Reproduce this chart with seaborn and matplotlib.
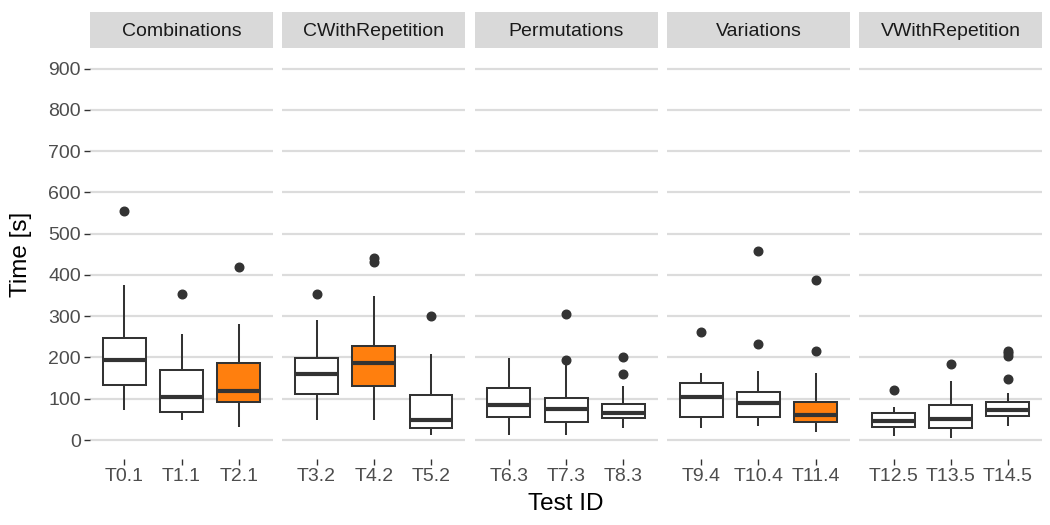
import matplotlib
matplotlib.use("Agg")
import matplotlib.pyplot as plt
import seaborn as sns
import pandas as pd

sns.set_theme(style="white")
plt.rcParams['font.family'] = ['Liberation Sans', 'DejaVu Sans']

# ---- data (box statistics per test) ----
categories = ["Combinations", "CWithRepetition", "Permutations", "Variations", "VWithRepetition"]
tests = [["T0.1", "T1.1", "T2.1"],
         ["T3.2", "T4.2", "T5.2"],
         ["T6.3", "T7.3", "T8.3"],
         ["T9.4", "T10.4", "T11.4"],
         ["T12.5", "T13.5", "T14.5"]]
highlight = ["T2.1", "T4.2", "T11.4"]

whislo = [72, 48, 31, 48, 48, 11, 13, 13, 29, 30, 35, 19, 10, 6, 35]
q1 = [134, 69, 91, 112, 130, 28, 56, 44, 53, 56, 56, 43, 31, 30, 58]
med = [194, 105, 118, 160, 186, 49, 85, 76, 65, 105, 89, 60, 47, 52, 73]
q3 = [248, 169, 187, 198, 227, 109, 127, 102, 87, 137, 117, 93, 65, 85, 93]
whishi = [376, 257, 281, 291, 348, 208, 198, 186, 131, 162, 167, 162, 81, 144, 115]
outliers = [[556], [355], [420], [355], [432, 440], [300], [], [195, 305], [160, 201],
            [262], [232, 458], [215, 388], [121], [185], [148, 204, 210, 215]]

# ---- expand statistics into samples whose quartiles match exactly ----
all_tests = [t for grp in tests for t in grp]
rows = []
for i, t in enumerate(all_tests):
    k = len(outliers[i])
    m = k + 1
    sample = [whislo[i]] + [q1[i]] * m + [med[i]] * m + [q3[i]] * m + [whishi[i]] + outliers[i]
    cat = categories[i // 3]
    for v in sample:
        rows.append({"category": cat, "test": t, "time": v})
df = pd.DataFrame(rows)

ORANGE = "#FF7F0E"
LINE = "#333333"
GRID = "#DCDCDC"
TICKC = "#4D4D4D"

W, H = 1050, 525
fig = plt.figure(figsize=(10.5, 5.25), dpi=100)

left0, pw, step = 90, 183, 192.3
ptop, pbot = 50, 458.6
strip_top, strip_bot = 12, 48

for j, cat in enumerate(categories):
    x0 = left0 + j * step
    ax = fig.add_axes([x0 / W, (H - pbot) / H, pw / W, (pbot - ptop) / H])
    sub = df[df["category"] == cat]
    pal = {t: (ORANGE if t in highlight else "white") for t in tests[j]}
    sns.boxplot(data=sub, x="test", y="time", hue="test", order=tests[j],
                hue_order=tests[j], palette=pal, legend=False, width=0.75,
                linewidth=1.45, linecolor=LINE, showcaps=False, whis=1.5,
                saturation=1, ax=ax,
                medianprops=dict(linewidth=3.0, color=LINE),
                flierprops=dict(marker="o", markersize=6.2, markerfacecolor=LINE,
                                markeredgecolor=LINE))
    ax.set_xlim(-0.6, 2.6)
    ax.set_ylim(-45, 945)
    ax.set_yticks(range(0, 901, 100))
    ax.yaxis.grid(True, color=GRID, linewidth=1.6)
    ax.xaxis.grid(False)
    ax.set_axisbelow(True)
    for s in ax.spines.values():
        s.set_visible(False)
    ax.set_xlabel("")
    ax.set_ylabel("")
    ax.tick_params(axis="x", length=4, width=1.0, color=LINE, labelsize=14,
                   labelcolor=TICKC, pad=2.5, bottom=True)
    if j == 0:
        ax.tick_params(axis="y", length=4, width=1.0, color=LINE, labelsize=14,
                       labelcolor=TICKC, pad=2.5, left=True)
    else:
        ax.tick_params(axis="y", left=False, labelleft=False)

    sax = fig.add_axes([x0 / W, (H - strip_bot) / H, pw / W, (strip_bot - strip_top) / H])
    sax.set_facecolor("#D9D9D9")
    sax.set_xticks([])
    sax.set_yticks([])
    for s in sax.spines.values():
        s.set_visible(False)
    sax.text(0.5, 0.47, cat, ha="center", va="center", fontsize=14,
             color="#1A1A1A", transform=sax.transAxes)

fig.text(566 / W, 1 - 504 / H, "Test ID", ha="center", va="center", fontsize=17.5, color="black")
fig.text(21 / W, 1 - 254 / H, "Time [s]", ha="center", va="center", fontsize=17.5,
         color="black", rotation=90)

fig.savefig("out.png", dpi=100, facecolor="white")
